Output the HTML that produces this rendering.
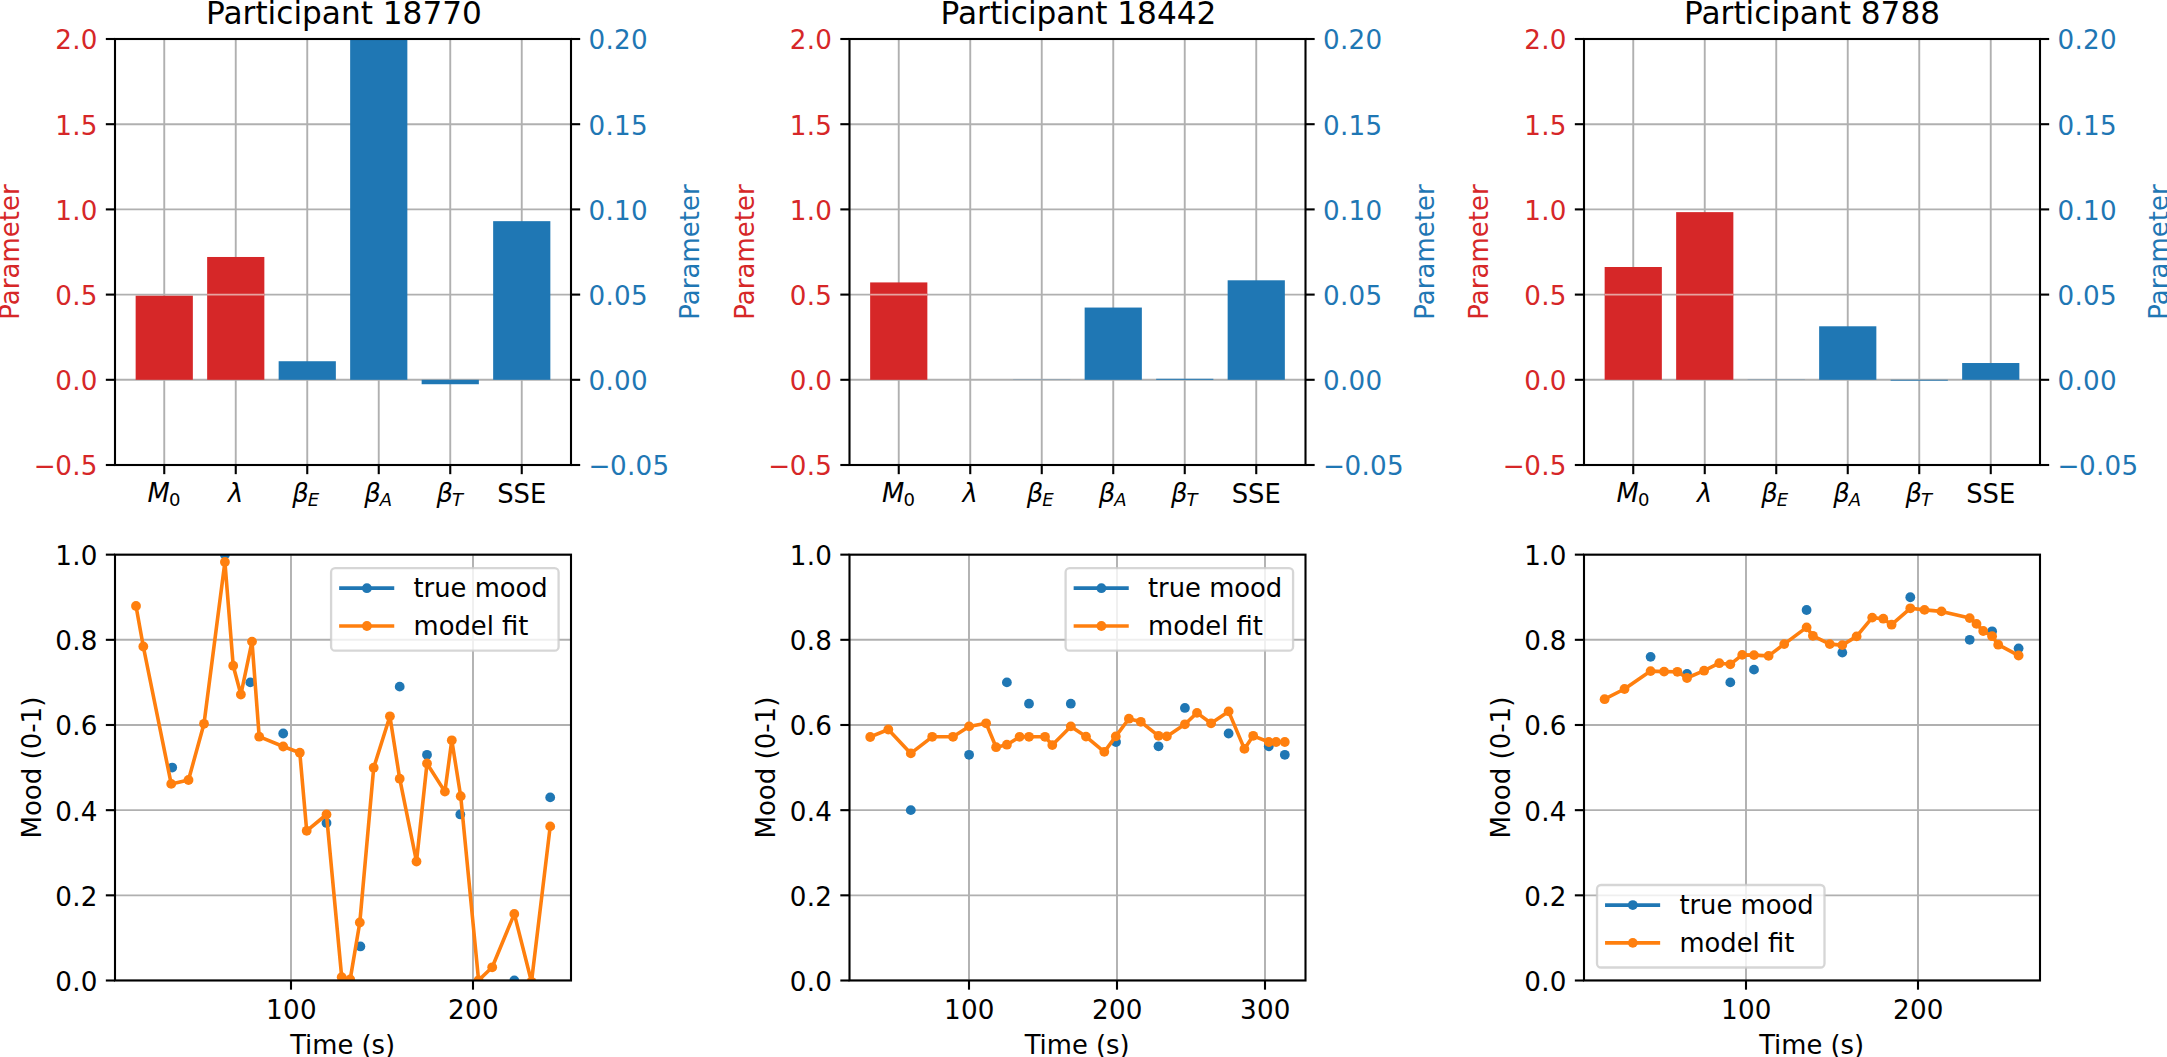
<!DOCTYPE html>
<html><head><meta charset="utf-8"><title>Participants</title>
<style>html,body{margin:0;padding:0;background:#fff}svg{display:block}text{font-family:"DejaVu Sans","Liberation Sans",sans-serif}</style></head><body>
<svg width="2167" height="1057" viewBox="0 0 2167 1057">
<rect width="2167" height="1057" fill="#fff"/>
<defs>
<clipPath id="ct0"><rect x="115" y="39" width="456" height="426"/></clipPath>
<clipPath id="cb0"><rect x="115" y="554.65" width="456" height="425.85"/></clipPath>
<clipPath id="ct1"><rect x="849.5" y="39" width="456" height="426"/></clipPath>
<clipPath id="cb1"><rect x="849.5" y="554.65" width="456" height="425.85"/></clipPath>
<clipPath id="ct2"><rect x="1584" y="39" width="456" height="426"/></clipPath>
<clipPath id="cb2"><rect x="1584" y="554.65" width="456" height="425.85"/></clipPath>
</defs>
<g clip-path="url(#ct0)">
<line x1="164.25" y1="39" x2="164.25" y2="465" stroke="#b0b0b0" stroke-width="1.9" />
<line x1="235.75" y1="39" x2="235.75" y2="465" stroke="#b0b0b0" stroke-width="1.9" />
<line x1="307.25" y1="39" x2="307.25" y2="465" stroke="#b0b0b0" stroke-width="1.9" />
<line x1="378.75" y1="39" x2="378.75" y2="465" stroke="#b0b0b0" stroke-width="1.9" />
<line x1="450.25" y1="39" x2="450.25" y2="465" stroke="#b0b0b0" stroke-width="1.9" />
<line x1="521.75" y1="39" x2="521.75" y2="465" stroke="#b0b0b0" stroke-width="1.9" />
<line x1="115" y1="465" x2="571" y2="465" stroke="#b0b0b0" stroke-width="1.9" />
<line x1="115" y1="379.8" x2="571" y2="379.8" stroke="#b0b0b0" stroke-width="1.9" />
<line x1="115" y1="294.6" x2="571" y2="294.6" stroke="#b0b0b0" stroke-width="1.9" />
<line x1="115" y1="209.4" x2="571" y2="209.4" stroke="#b0b0b0" stroke-width="1.9" />
<line x1="115" y1="124.2" x2="571" y2="124.2" stroke="#b0b0b0" stroke-width="1.9" />
<line x1="115" y1="39" x2="571" y2="39" stroke="#b0b0b0" stroke-width="1.9" />
<rect x="135.65" y="295.72" width="57.2" height="84.08" fill="#d62728"/>
<rect x="207.15" y="256.98" width="57.2" height="122.82" fill="#d62728"/>
<line x1="207.15" y1="294.6" x2="264.35" y2="294.6" stroke="#e6a3a0" stroke-width="1.8" />
<rect x="278.65" y="361.23" width="57.2" height="18.57" fill="#1f77b4"/>
<rect x="350.15" y="-46.2" width="57.2" height="426" fill="#1f77b4"/>
<rect x="421.65" y="379.8" width="57.2" height="4.43" fill="#1f77b4"/>
<rect x="493.15" y="221.16" width="57.2" height="158.64" fill="#1f77b4"/>
</g>
<line x1="164.25" y1="465" x2="164.25" y2="474.17" stroke="#000" stroke-width="2.1" />
<line x1="235.75" y1="465" x2="235.75" y2="474.17" stroke="#000" stroke-width="2.1" />
<line x1="307.25" y1="465" x2="307.25" y2="474.17" stroke="#000" stroke-width="2.1" />
<line x1="378.75" y1="465" x2="378.75" y2="474.17" stroke="#000" stroke-width="2.1" />
<line x1="450.25" y1="465" x2="450.25" y2="474.17" stroke="#000" stroke-width="2.1" />
<line x1="521.75" y1="465" x2="521.75" y2="474.17" stroke="#000" stroke-width="2.1" />
<line x1="105.83" y1="465" x2="115" y2="465" stroke="#000" stroke-width="2.1" />
<line x1="571" y1="465" x2="580.17" y2="465" stroke="#000" stroke-width="2.1" />
<line x1="105.83" y1="379.8" x2="115" y2="379.8" stroke="#000" stroke-width="2.1" />
<line x1="571" y1="379.8" x2="580.17" y2="379.8" stroke="#000" stroke-width="2.1" />
<line x1="105.83" y1="294.6" x2="115" y2="294.6" stroke="#000" stroke-width="2.1" />
<line x1="571" y1="294.6" x2="580.17" y2="294.6" stroke="#000" stroke-width="2.1" />
<line x1="105.83" y1="209.4" x2="115" y2="209.4" stroke="#000" stroke-width="2.1" />
<line x1="571" y1="209.4" x2="580.17" y2="209.4" stroke="#000" stroke-width="2.1" />
<line x1="105.83" y1="124.2" x2="115" y2="124.2" stroke="#000" stroke-width="2.1" />
<line x1="571" y1="124.2" x2="580.17" y2="124.2" stroke="#000" stroke-width="2.1" />
<line x1="105.83" y1="39" x2="115" y2="39" stroke="#000" stroke-width="2.1" />
<line x1="571" y1="39" x2="580.17" y2="39" stroke="#000" stroke-width="2.1" />
<rect x="115" y="39" width="456" height="426" fill="none" stroke="#000" stroke-width="2.1" stroke-linejoin="miter"/>
<text x="97.66" y="475" font-size="26.2" letter-spacing="0.25" fill="#d62728" text-anchor="end">−<tspan dx="-0.8">0.5</tspan></text>
<text x="588.59" y="475" font-size="26.2" letter-spacing="0.25" fill="#1f77b4" text-anchor="start">−<tspan dx="-0.8">0.05</tspan></text>
<text x="97.66" y="390" font-size="26.2" letter-spacing="0.25" fill="#d62728" text-anchor="end">0.0</text>
<text x="588.59" y="390" font-size="26.2" letter-spacing="0.25" fill="#1f77b4" text-anchor="start">0.00</text>
<text x="97.66" y="305" font-size="26.2" letter-spacing="0.25" fill="#d62728" text-anchor="end">0.5</text>
<text x="588.59" y="305" font-size="26.2" letter-spacing="0.25" fill="#1f77b4" text-anchor="start">0.05</text>
<text x="97.66" y="220" font-size="26.2" letter-spacing="0.25" fill="#d62728" text-anchor="end">1.0</text>
<text x="588.59" y="220" font-size="26.2" letter-spacing="0.25" fill="#1f77b4" text-anchor="start">0.10</text>
<text x="97.66" y="135" font-size="26.2" letter-spacing="0.25" fill="#d62728" text-anchor="end">1.5</text>
<text x="588.59" y="135" font-size="26.2" letter-spacing="0.25" fill="#1f77b4" text-anchor="start">0.15</text>
<text x="97.66" y="49" font-size="26.2" letter-spacing="0.25" fill="#d62728" text-anchor="end">2.0</text>
<text x="588.59" y="49" font-size="26.2" letter-spacing="0.25" fill="#1f77b4" text-anchor="start">0.20</text>
<text x="163.95" y="501.7" font-size="25.8" fill="#000" text-anchor="middle" ><tspan font-style="italic">M</tspan><tspan font-size="18.06" dy="4.2" dx="-0.9">0</tspan></text>
<text x="235.75" y="501.7" font-size="25.8" fill="#000" text-anchor="middle" ><tspan font-style="italic">λ</tspan></text>
<text x="305.75" y="501.7" font-size="25.8" fill="#000" text-anchor="middle" ><tspan font-style="italic">β</tspan><tspan font-style="italic" font-size="18.06" dy="4.2" dx="-0.9">E</tspan></text>
<text x="378.15" y="501.7" font-size="25.8" fill="#000" text-anchor="middle" ><tspan font-style="italic">β</tspan><tspan font-style="italic" font-size="18.06" dy="4.2" dx="-0.9">A</tspan></text>
<text x="449.75" y="501.7" font-size="25.8" fill="#000" text-anchor="middle" ><tspan font-style="italic">β</tspan><tspan font-style="italic" font-size="18.06" dy="4.2" dx="-0.9">T</tspan></text>
<text x="521.75" y="503.1" font-size="25.8" fill="#000" text-anchor="middle" >SSE</text>
<text x="344" y="23.9" font-size="31.17" fill="#000" text-anchor="middle" >Participant 18770</text>
<text transform="translate(19.1,252) rotate(-90)" font-size="26" fill="#d62728" text-anchor="middle">Parameter</text>
<text transform="translate(699,252) rotate(-90)" font-size="26" fill="#1f77b4" text-anchor="middle">Parameter</text>
<g clip-path="url(#ct1)">
<line x1="898.75" y1="39" x2="898.75" y2="465" stroke="#b0b0b0" stroke-width="1.9" />
<line x1="970.25" y1="39" x2="970.25" y2="465" stroke="#b0b0b0" stroke-width="1.9" />
<line x1="1041.75" y1="39" x2="1041.75" y2="465" stroke="#b0b0b0" stroke-width="1.9" />
<line x1="1113.25" y1="39" x2="1113.25" y2="465" stroke="#b0b0b0" stroke-width="1.9" />
<line x1="1184.75" y1="39" x2="1184.75" y2="465" stroke="#b0b0b0" stroke-width="1.9" />
<line x1="1256.25" y1="39" x2="1256.25" y2="465" stroke="#b0b0b0" stroke-width="1.9" />
<line x1="849.5" y1="465" x2="1305.5" y2="465" stroke="#b0b0b0" stroke-width="1.9" />
<line x1="849.5" y1="379.8" x2="1305.5" y2="379.8" stroke="#b0b0b0" stroke-width="1.9" />
<line x1="849.5" y1="294.6" x2="1305.5" y2="294.6" stroke="#b0b0b0" stroke-width="1.9" />
<line x1="849.5" y1="209.4" x2="1305.5" y2="209.4" stroke="#b0b0b0" stroke-width="1.9" />
<line x1="849.5" y1="124.2" x2="1305.5" y2="124.2" stroke="#b0b0b0" stroke-width="1.9" />
<line x1="849.5" y1="39" x2="1305.5" y2="39" stroke="#b0b0b0" stroke-width="1.9" />
<rect x="870.15" y="282.42" width="57.2" height="97.38" fill="#d62728"/>
<line x1="870.15" y1="294.6" x2="927.35" y2="294.6" stroke="#e6a3a0" stroke-width="1.8" />
<rect x="1013.15" y="379.8" width="57.2" height="0.17" fill="#1f77b4"/>
<rect x="1084.65" y="307.55" width="57.2" height="72.25" fill="#1f77b4"/>
<rect x="1156.15" y="378.78" width="57.2" height="1.02" fill="#1f77b4"/>
<rect x="1227.65" y="280.29" width="57.2" height="99.51" fill="#1f77b4"/>
</g>
<line x1="898.75" y1="465" x2="898.75" y2="474.17" stroke="#000" stroke-width="2.1" />
<line x1="970.25" y1="465" x2="970.25" y2="474.17" stroke="#000" stroke-width="2.1" />
<line x1="1041.75" y1="465" x2="1041.75" y2="474.17" stroke="#000" stroke-width="2.1" />
<line x1="1113.25" y1="465" x2="1113.25" y2="474.17" stroke="#000" stroke-width="2.1" />
<line x1="1184.75" y1="465" x2="1184.75" y2="474.17" stroke="#000" stroke-width="2.1" />
<line x1="1256.25" y1="465" x2="1256.25" y2="474.17" stroke="#000" stroke-width="2.1" />
<line x1="840.33" y1="465" x2="849.5" y2="465" stroke="#000" stroke-width="2.1" />
<line x1="1305.5" y1="465" x2="1314.67" y2="465" stroke="#000" stroke-width="2.1" />
<line x1="840.33" y1="379.8" x2="849.5" y2="379.8" stroke="#000" stroke-width="2.1" />
<line x1="1305.5" y1="379.8" x2="1314.67" y2="379.8" stroke="#000" stroke-width="2.1" />
<line x1="840.33" y1="294.6" x2="849.5" y2="294.6" stroke="#000" stroke-width="2.1" />
<line x1="1305.5" y1="294.6" x2="1314.67" y2="294.6" stroke="#000" stroke-width="2.1" />
<line x1="840.33" y1="209.4" x2="849.5" y2="209.4" stroke="#000" stroke-width="2.1" />
<line x1="1305.5" y1="209.4" x2="1314.67" y2="209.4" stroke="#000" stroke-width="2.1" />
<line x1="840.33" y1="124.2" x2="849.5" y2="124.2" stroke="#000" stroke-width="2.1" />
<line x1="1305.5" y1="124.2" x2="1314.67" y2="124.2" stroke="#000" stroke-width="2.1" />
<line x1="840.33" y1="39" x2="849.5" y2="39" stroke="#000" stroke-width="2.1" />
<line x1="1305.5" y1="39" x2="1314.67" y2="39" stroke="#000" stroke-width="2.1" />
<rect x="849.5" y="39" width="456" height="426" fill="none" stroke="#000" stroke-width="2.1" stroke-linejoin="miter"/>
<text x="832.16" y="475" font-size="26.2" letter-spacing="0.25" fill="#d62728" text-anchor="end">−<tspan dx="-0.8">0.5</tspan></text>
<text x="1323.09" y="475" font-size="26.2" letter-spacing="0.25" fill="#1f77b4" text-anchor="start">−<tspan dx="-0.8">0.05</tspan></text>
<text x="832.16" y="390" font-size="26.2" letter-spacing="0.25" fill="#d62728" text-anchor="end">0.0</text>
<text x="1323.09" y="390" font-size="26.2" letter-spacing="0.25" fill="#1f77b4" text-anchor="start">0.00</text>
<text x="832.16" y="305" font-size="26.2" letter-spacing="0.25" fill="#d62728" text-anchor="end">0.5</text>
<text x="1323.09" y="305" font-size="26.2" letter-spacing="0.25" fill="#1f77b4" text-anchor="start">0.05</text>
<text x="832.16" y="220" font-size="26.2" letter-spacing="0.25" fill="#d62728" text-anchor="end">1.0</text>
<text x="1323.09" y="220" font-size="26.2" letter-spacing="0.25" fill="#1f77b4" text-anchor="start">0.10</text>
<text x="832.16" y="135" font-size="26.2" letter-spacing="0.25" fill="#d62728" text-anchor="end">1.5</text>
<text x="1323.09" y="135" font-size="26.2" letter-spacing="0.25" fill="#1f77b4" text-anchor="start">0.15</text>
<text x="832.16" y="49" font-size="26.2" letter-spacing="0.25" fill="#d62728" text-anchor="end">2.0</text>
<text x="1323.09" y="49" font-size="26.2" letter-spacing="0.25" fill="#1f77b4" text-anchor="start">0.20</text>
<text x="898.45" y="501.7" font-size="25.8" fill="#000" text-anchor="middle" ><tspan font-style="italic">M</tspan><tspan font-size="18.06" dy="4.2" dx="-0.9">0</tspan></text>
<text x="970.25" y="501.7" font-size="25.8" fill="#000" text-anchor="middle" ><tspan font-style="italic">λ</tspan></text>
<text x="1040.25" y="501.7" font-size="25.8" fill="#000" text-anchor="middle" ><tspan font-style="italic">β</tspan><tspan font-style="italic" font-size="18.06" dy="4.2" dx="-0.9">E</tspan></text>
<text x="1112.65" y="501.7" font-size="25.8" fill="#000" text-anchor="middle" ><tspan font-style="italic">β</tspan><tspan font-style="italic" font-size="18.06" dy="4.2" dx="-0.9">A</tspan></text>
<text x="1184.25" y="501.7" font-size="25.8" fill="#000" text-anchor="middle" ><tspan font-style="italic">β</tspan><tspan font-style="italic" font-size="18.06" dy="4.2" dx="-0.9">T</tspan></text>
<text x="1256.25" y="503.1" font-size="25.8" fill="#000" text-anchor="middle" >SSE</text>
<text x="1078.5" y="23.9" font-size="31.17" fill="#000" text-anchor="middle" >Participant 18442</text>
<text transform="translate(753.6,252) rotate(-90)" font-size="26" fill="#d62728" text-anchor="middle">Parameter</text>
<text transform="translate(1433.5,252) rotate(-90)" font-size="26" fill="#1f77b4" text-anchor="middle">Parameter</text>
<g clip-path="url(#ct2)">
<line x1="1633.25" y1="39" x2="1633.25" y2="465" stroke="#b0b0b0" stroke-width="1.9" />
<line x1="1704.75" y1="39" x2="1704.75" y2="465" stroke="#b0b0b0" stroke-width="1.9" />
<line x1="1776.25" y1="39" x2="1776.25" y2="465" stroke="#b0b0b0" stroke-width="1.9" />
<line x1="1847.75" y1="39" x2="1847.75" y2="465" stroke="#b0b0b0" stroke-width="1.9" />
<line x1="1919.25" y1="39" x2="1919.25" y2="465" stroke="#b0b0b0" stroke-width="1.9" />
<line x1="1990.75" y1="39" x2="1990.75" y2="465" stroke="#b0b0b0" stroke-width="1.9" />
<line x1="1584" y1="465" x2="2040" y2="465" stroke="#b0b0b0" stroke-width="1.9" />
<line x1="1584" y1="379.8" x2="2040" y2="379.8" stroke="#b0b0b0" stroke-width="1.9" />
<line x1="1584" y1="294.6" x2="2040" y2="294.6" stroke="#b0b0b0" stroke-width="1.9" />
<line x1="1584" y1="209.4" x2="2040" y2="209.4" stroke="#b0b0b0" stroke-width="1.9" />
<line x1="1584" y1="124.2" x2="2040" y2="124.2" stroke="#b0b0b0" stroke-width="1.9" />
<line x1="1584" y1="39" x2="2040" y2="39" stroke="#b0b0b0" stroke-width="1.9" />
<rect x="1604.65" y="267" width="57.2" height="112.8" fill="#d62728"/>
<rect x="1676.15" y="212.13" width="57.2" height="167.67" fill="#d62728"/>
<line x1="1604.65" y1="294.6" x2="1661.85" y2="294.6" stroke="#e6a3a0" stroke-width="1.8" />
<line x1="1676.15" y1="294.6" x2="1733.35" y2="294.6" stroke="#e6a3a0" stroke-width="1.8" />
<rect x="1747.65" y="379.8" width="57.2" height="0.17" fill="#1f77b4"/>
<rect x="1819.15" y="326.29" width="57.2" height="53.51" fill="#1f77b4"/>
<rect x="1890.65" y="379.8" width="57.2" height="0.85" fill="#1f77b4"/>
<rect x="1962.15" y="363.02" width="57.2" height="16.78" fill="#1f77b4"/>
</g>
<line x1="1633.25" y1="465" x2="1633.25" y2="474.17" stroke="#000" stroke-width="2.1" />
<line x1="1704.75" y1="465" x2="1704.75" y2="474.17" stroke="#000" stroke-width="2.1" />
<line x1="1776.25" y1="465" x2="1776.25" y2="474.17" stroke="#000" stroke-width="2.1" />
<line x1="1847.75" y1="465" x2="1847.75" y2="474.17" stroke="#000" stroke-width="2.1" />
<line x1="1919.25" y1="465" x2="1919.25" y2="474.17" stroke="#000" stroke-width="2.1" />
<line x1="1990.75" y1="465" x2="1990.75" y2="474.17" stroke="#000" stroke-width="2.1" />
<line x1="1574.83" y1="465" x2="1584" y2="465" stroke="#000" stroke-width="2.1" />
<line x1="2040" y1="465" x2="2049.17" y2="465" stroke="#000" stroke-width="2.1" />
<line x1="1574.83" y1="379.8" x2="1584" y2="379.8" stroke="#000" stroke-width="2.1" />
<line x1="2040" y1="379.8" x2="2049.17" y2="379.8" stroke="#000" stroke-width="2.1" />
<line x1="1574.83" y1="294.6" x2="1584" y2="294.6" stroke="#000" stroke-width="2.1" />
<line x1="2040" y1="294.6" x2="2049.17" y2="294.6" stroke="#000" stroke-width="2.1" />
<line x1="1574.83" y1="209.4" x2="1584" y2="209.4" stroke="#000" stroke-width="2.1" />
<line x1="2040" y1="209.4" x2="2049.17" y2="209.4" stroke="#000" stroke-width="2.1" />
<line x1="1574.83" y1="124.2" x2="1584" y2="124.2" stroke="#000" stroke-width="2.1" />
<line x1="2040" y1="124.2" x2="2049.17" y2="124.2" stroke="#000" stroke-width="2.1" />
<line x1="1574.83" y1="39" x2="1584" y2="39" stroke="#000" stroke-width="2.1" />
<line x1="2040" y1="39" x2="2049.17" y2="39" stroke="#000" stroke-width="2.1" />
<rect x="1584" y="39" width="456" height="426" fill="none" stroke="#000" stroke-width="2.1" stroke-linejoin="miter"/>
<text x="1566.66" y="475" font-size="26.2" letter-spacing="0.25" fill="#d62728" text-anchor="end">−<tspan dx="-0.8">0.5</tspan></text>
<text x="2057.59" y="475" font-size="26.2" letter-spacing="0.25" fill="#1f77b4" text-anchor="start">−<tspan dx="-0.8">0.05</tspan></text>
<text x="1566.66" y="390" font-size="26.2" letter-spacing="0.25" fill="#d62728" text-anchor="end">0.0</text>
<text x="2057.59" y="390" font-size="26.2" letter-spacing="0.25" fill="#1f77b4" text-anchor="start">0.00</text>
<text x="1566.66" y="305" font-size="26.2" letter-spacing="0.25" fill="#d62728" text-anchor="end">0.5</text>
<text x="2057.59" y="305" font-size="26.2" letter-spacing="0.25" fill="#1f77b4" text-anchor="start">0.05</text>
<text x="1566.66" y="220" font-size="26.2" letter-spacing="0.25" fill="#d62728" text-anchor="end">1.0</text>
<text x="2057.59" y="220" font-size="26.2" letter-spacing="0.25" fill="#1f77b4" text-anchor="start">0.10</text>
<text x="1566.66" y="135" font-size="26.2" letter-spacing="0.25" fill="#d62728" text-anchor="end">1.5</text>
<text x="2057.59" y="135" font-size="26.2" letter-spacing="0.25" fill="#1f77b4" text-anchor="start">0.15</text>
<text x="1566.66" y="49" font-size="26.2" letter-spacing="0.25" fill="#d62728" text-anchor="end">2.0</text>
<text x="2057.59" y="49" font-size="26.2" letter-spacing="0.25" fill="#1f77b4" text-anchor="start">0.20</text>
<text x="1632.95" y="501.7" font-size="25.8" fill="#000" text-anchor="middle" ><tspan font-style="italic">M</tspan><tspan font-size="18.06" dy="4.2" dx="-0.9">0</tspan></text>
<text x="1704.75" y="501.7" font-size="25.8" fill="#000" text-anchor="middle" ><tspan font-style="italic">λ</tspan></text>
<text x="1774.75" y="501.7" font-size="25.8" fill="#000" text-anchor="middle" ><tspan font-style="italic">β</tspan><tspan font-style="italic" font-size="18.06" dy="4.2" dx="-0.9">E</tspan></text>
<text x="1847.15" y="501.7" font-size="25.8" fill="#000" text-anchor="middle" ><tspan font-style="italic">β</tspan><tspan font-style="italic" font-size="18.06" dy="4.2" dx="-0.9">A</tspan></text>
<text x="1918.75" y="501.7" font-size="25.8" fill="#000" text-anchor="middle" ><tspan font-style="italic">β</tspan><tspan font-style="italic" font-size="18.06" dy="4.2" dx="-0.9">T</tspan></text>
<text x="1990.75" y="503.1" font-size="25.8" fill="#000" text-anchor="middle" >SSE</text>
<text x="1812.1" y="23.9" font-size="31.17" fill="#000" text-anchor="middle" >Participant 8788</text>
<text transform="translate(1488.1,252) rotate(-90)" font-size="26" fill="#d62728" text-anchor="middle">Parameter</text>
<text transform="translate(2168,252) rotate(-90)" font-size="26" fill="#1f77b4" text-anchor="middle">Parameter</text>
<g clip-path="url(#cb0)">
<line x1="291" y1="554.65" x2="291" y2="980.5" stroke="#b0b0b0" stroke-width="1.9" />
<line x1="473" y1="554.65" x2="473" y2="980.5" stroke="#b0b0b0" stroke-width="1.9" />
<line x1="115" y1="980.5" x2="571" y2="980.5" stroke="#b0b0b0" stroke-width="1.9" />
<line x1="115" y1="895.33" x2="571" y2="895.33" stroke="#b0b0b0" stroke-width="1.9" />
<line x1="115" y1="810.16" x2="571" y2="810.16" stroke="#b0b0b0" stroke-width="1.9" />
<line x1="115" y1="724.99" x2="571" y2="724.99" stroke="#b0b0b0" stroke-width="1.9" />
<line x1="115" y1="639.82" x2="571" y2="639.82" stroke="#b0b0b0" stroke-width="1.9" />
<line x1="115" y1="554.65" x2="571" y2="554.65" stroke="#b0b0b0" stroke-width="1.9" />
<circle cx="172.2" cy="767.58" r="4.9" fill="#1f77b4"/>
<circle cx="224.9" cy="554.65" r="4.9" fill="#1f77b4"/>
<circle cx="250.3" cy="682.4" r="4.9" fill="#1f77b4"/>
<circle cx="283.2" cy="733.51" r="4.9" fill="#1f77b4"/>
<circle cx="326.5" cy="822.94" r="4.9" fill="#1f77b4"/>
<circle cx="360.4" cy="946.43" r="4.9" fill="#1f77b4"/>
<circle cx="399.7" cy="686.66" r="4.9" fill="#1f77b4"/>
<circle cx="427" cy="754.8" r="4.9" fill="#1f77b4"/>
<circle cx="460.3" cy="814.42" r="4.9" fill="#1f77b4"/>
<circle cx="514.3" cy="980.5" r="4.9" fill="#1f77b4"/>
<circle cx="550.2" cy="797.38" r="4.9" fill="#1f77b4"/>
<polyline points="136,606 143.3,646.5 171.2,783.9 188.5,780 204,723.8 224.9,562 233.2,665.7 240.9,694.5 252,641.6 259.2,736.7 283.2,746.5 299.8,752.7 306.7,830.8 326.5,814.5 341.7,977.2 350.2,979.4 359.8,922.5 373.7,767.7 389.9,716.3 399.7,778.7 416.5,861.5 427,763.5 444.9,791.6 451.8,740.3 460.7,796.2 478.6,980.3 492.2,967.3 514.3,913.9 531.5,981.8 550.2,826.4" fill="none" stroke="#ff7f0e" stroke-width="3.6" stroke-linejoin="round" stroke-linecap="square"/>
<circle cx="136" cy="606" r="4.9" fill="#ff7f0e"/>
<circle cx="143.3" cy="646.5" r="4.9" fill="#ff7f0e"/>
<circle cx="171.2" cy="783.9" r="4.9" fill="#ff7f0e"/>
<circle cx="188.5" cy="780" r="4.9" fill="#ff7f0e"/>
<circle cx="204" cy="723.8" r="4.9" fill="#ff7f0e"/>
<circle cx="224.9" cy="562" r="4.9" fill="#ff7f0e"/>
<circle cx="233.2" cy="665.7" r="4.9" fill="#ff7f0e"/>
<circle cx="240.9" cy="694.5" r="4.9" fill="#ff7f0e"/>
<circle cx="252" cy="641.6" r="4.9" fill="#ff7f0e"/>
<circle cx="259.2" cy="736.7" r="4.9" fill="#ff7f0e"/>
<circle cx="283.2" cy="746.5" r="4.9" fill="#ff7f0e"/>
<circle cx="299.8" cy="752.7" r="4.9" fill="#ff7f0e"/>
<circle cx="306.7" cy="830.8" r="4.9" fill="#ff7f0e"/>
<circle cx="326.5" cy="814.5" r="4.9" fill="#ff7f0e"/>
<circle cx="341.7" cy="977.2" r="4.9" fill="#ff7f0e"/>
<circle cx="350.2" cy="979.4" r="4.9" fill="#ff7f0e"/>
<circle cx="359.8" cy="922.5" r="4.9" fill="#ff7f0e"/>
<circle cx="373.7" cy="767.7" r="4.9" fill="#ff7f0e"/>
<circle cx="389.9" cy="716.3" r="4.9" fill="#ff7f0e"/>
<circle cx="399.7" cy="778.7" r="4.9" fill="#ff7f0e"/>
<circle cx="416.5" cy="861.5" r="4.9" fill="#ff7f0e"/>
<circle cx="427" cy="763.5" r="4.9" fill="#ff7f0e"/>
<circle cx="444.9" cy="791.6" r="4.9" fill="#ff7f0e"/>
<circle cx="451.8" cy="740.3" r="4.9" fill="#ff7f0e"/>
<circle cx="460.7" cy="796.2" r="4.9" fill="#ff7f0e"/>
<circle cx="478.6" cy="980.3" r="4.9" fill="#ff7f0e"/>
<circle cx="492.2" cy="967.3" r="4.9" fill="#ff7f0e"/>
<circle cx="514.3" cy="913.9" r="4.9" fill="#ff7f0e"/>
<circle cx="531.5" cy="981.8" r="4.9" fill="#ff7f0e"/>
<circle cx="550.2" cy="826.4" r="4.9" fill="#ff7f0e"/>
</g>
<line x1="291" y1="980.5" x2="291" y2="989.67" stroke="#000" stroke-width="2.1" />
<line x1="473" y1="980.5" x2="473" y2="989.67" stroke="#000" stroke-width="2.1" />
<line x1="105.83" y1="980.5" x2="115" y2="980.5" stroke="#000" stroke-width="2.1" />
<line x1="105.83" y1="895.33" x2="115" y2="895.33" stroke="#000" stroke-width="2.1" />
<line x1="105.83" y1="810.16" x2="115" y2="810.16" stroke="#000" stroke-width="2.1" />
<line x1="105.83" y1="724.99" x2="115" y2="724.99" stroke="#000" stroke-width="2.1" />
<line x1="105.83" y1="639.82" x2="115" y2="639.82" stroke="#000" stroke-width="2.1" />
<line x1="105.83" y1="554.65" x2="115" y2="554.65" stroke="#000" stroke-width="2.1" />
<rect x="115" y="554.65" width="456" height="425.85" fill="none" stroke="#000" stroke-width="2.1"/>
<text x="97.66" y="991" font-size="26.2" letter-spacing="0.25" fill="#000" text-anchor="end">0.0</text>
<text x="97.66" y="906" font-size="26.2" letter-spacing="0.25" fill="#000" text-anchor="end">0.2</text>
<text x="97.66" y="821" font-size="26.2" letter-spacing="0.25" fill="#000" text-anchor="end">0.4</text>
<text x="97.66" y="735" font-size="26.2" letter-spacing="0.25" fill="#000" text-anchor="end">0.6</text>
<text x="97.66" y="650" font-size="26.2" letter-spacing="0.25" fill="#000" text-anchor="end">0.8</text>
<text x="97.66" y="565" font-size="26.2" letter-spacing="0.25" fill="#000" text-anchor="end">1.0</text>
<text x="291.43" y="1019" font-size="26.2" letter-spacing="0.25" fill="#000" text-anchor="middle">100</text>
<text x="473.43" y="1019" font-size="26.2" letter-spacing="0.25" fill="#000" text-anchor="middle">200</text>
<text x="342.6" y="1054.3" font-size="25.8" fill="#000" text-anchor="middle" >Time (s)</text>
<text transform="translate(40.6,767.58) rotate(-90)" font-size="26" fill="#000" text-anchor="middle">Mood (0-1)</text>
<rect x="331.1" y="568.15" width="227.5" height="82.5" rx="4" ry="4" fill="#fff" fill-opacity="0.8" stroke="#ccc" stroke-opacity="0.8" stroke-width="2.3"/>
<line x1="341" y1="588.2" x2="392.4" y2="588.2" stroke="#1f77b4" stroke-width="3.7" stroke-linecap="square"/>
<circle cx="366.9" cy="588.2" r="4.9" fill="#1f77b4"/>
<text x="413.5" y="597.1" font-size="25.8" fill="#000" text-anchor="start" >true mood</text>
<line x1="341" y1="626" x2="392.4" y2="626" stroke="#ff7f0e" stroke-width="3.7" stroke-linecap="square"/>
<circle cx="366.9" cy="626" r="4.9" fill="#ff7f0e"/>
<text x="413.5" y="634.9" font-size="25.8" fill="#000" text-anchor="start" >model fit</text>
<g clip-path="url(#cb1)">
<line x1="969" y1="554.65" x2="969" y2="980.5" stroke="#b0b0b0" stroke-width="1.9" />
<line x1="1117" y1="554.65" x2="1117" y2="980.5" stroke="#b0b0b0" stroke-width="1.9" />
<line x1="1265" y1="554.65" x2="1265" y2="980.5" stroke="#b0b0b0" stroke-width="1.9" />
<line x1="849.5" y1="980.5" x2="1305.5" y2="980.5" stroke="#b0b0b0" stroke-width="1.9" />
<line x1="849.5" y1="895.33" x2="1305.5" y2="895.33" stroke="#b0b0b0" stroke-width="1.9" />
<line x1="849.5" y1="810.16" x2="1305.5" y2="810.16" stroke="#b0b0b0" stroke-width="1.9" />
<line x1="849.5" y1="724.99" x2="1305.5" y2="724.99" stroke="#b0b0b0" stroke-width="1.9" />
<line x1="849.5" y1="639.82" x2="1305.5" y2="639.82" stroke="#b0b0b0" stroke-width="1.9" />
<line x1="849.5" y1="554.65" x2="1305.5" y2="554.65" stroke="#b0b0b0" stroke-width="1.9" />
<circle cx="910.8" cy="810.16" r="4.9" fill="#1f77b4"/>
<circle cx="969.1" cy="754.8" r="4.9" fill="#1f77b4"/>
<circle cx="1006.9" cy="682.4" r="4.9" fill="#1f77b4"/>
<circle cx="1029" cy="703.7" r="4.9" fill="#1f77b4"/>
<circle cx="1070.8" cy="703.7" r="4.9" fill="#1f77b4"/>
<circle cx="1116" cy="742.02" r="4.9" fill="#1f77b4"/>
<circle cx="1158.5" cy="746.28" r="4.9" fill="#1f77b4"/>
<circle cx="1184.9" cy="707.96" r="4.9" fill="#1f77b4"/>
<circle cx="1228.6" cy="733.51" r="4.9" fill="#1f77b4"/>
<circle cx="1268.8" cy="746.28" r="4.9" fill="#1f77b4"/>
<circle cx="1284.8" cy="754.8" r="4.9" fill="#1f77b4"/>
<polyline points="870.2,737 888.3,729.5 910.8,753.4 932.2,736.8 953,736.8 969.1,726.4 986.1,723.3 996.1,747.2 1006.9,744.7 1019.6,736.8 1029,736.8 1045,736.8 1052.3,745.1 1070.8,726.4 1086,736.6 1104.3,751.8 1115.8,736.4 1128.9,718.7 1140.8,721.8 1158.5,735.8 1166.8,736.4 1184.9,724.3 1197,712.9 1211.1,723.3 1228.6,711.4 1244.4,748.9 1253.2,735.8 1268.8,742 1276.1,742 1284.8,742" fill="none" stroke="#ff7f0e" stroke-width="3.6" stroke-linejoin="round" stroke-linecap="square"/>
<circle cx="870.2" cy="737" r="4.9" fill="#ff7f0e"/>
<circle cx="888.3" cy="729.5" r="4.9" fill="#ff7f0e"/>
<circle cx="910.8" cy="753.4" r="4.9" fill="#ff7f0e"/>
<circle cx="932.2" cy="736.8" r="4.9" fill="#ff7f0e"/>
<circle cx="953" cy="736.8" r="4.9" fill="#ff7f0e"/>
<circle cx="969.1" cy="726.4" r="4.9" fill="#ff7f0e"/>
<circle cx="986.1" cy="723.3" r="4.9" fill="#ff7f0e"/>
<circle cx="996.1" cy="747.2" r="4.9" fill="#ff7f0e"/>
<circle cx="1006.9" cy="744.7" r="4.9" fill="#ff7f0e"/>
<circle cx="1019.6" cy="736.8" r="4.9" fill="#ff7f0e"/>
<circle cx="1029" cy="736.8" r="4.9" fill="#ff7f0e"/>
<circle cx="1045" cy="736.8" r="4.9" fill="#ff7f0e"/>
<circle cx="1052.3" cy="745.1" r="4.9" fill="#ff7f0e"/>
<circle cx="1070.8" cy="726.4" r="4.9" fill="#ff7f0e"/>
<circle cx="1086" cy="736.6" r="4.9" fill="#ff7f0e"/>
<circle cx="1104.3" cy="751.8" r="4.9" fill="#ff7f0e"/>
<circle cx="1115.8" cy="736.4" r="4.9" fill="#ff7f0e"/>
<circle cx="1128.9" cy="718.7" r="4.9" fill="#ff7f0e"/>
<circle cx="1140.8" cy="721.8" r="4.9" fill="#ff7f0e"/>
<circle cx="1158.5" cy="735.8" r="4.9" fill="#ff7f0e"/>
<circle cx="1166.8" cy="736.4" r="4.9" fill="#ff7f0e"/>
<circle cx="1184.9" cy="724.3" r="4.9" fill="#ff7f0e"/>
<circle cx="1197" cy="712.9" r="4.9" fill="#ff7f0e"/>
<circle cx="1211.1" cy="723.3" r="4.9" fill="#ff7f0e"/>
<circle cx="1228.6" cy="711.4" r="4.9" fill="#ff7f0e"/>
<circle cx="1244.4" cy="748.9" r="4.9" fill="#ff7f0e"/>
<circle cx="1253.2" cy="735.8" r="4.9" fill="#ff7f0e"/>
<circle cx="1268.8" cy="742" r="4.9" fill="#ff7f0e"/>
<circle cx="1276.1" cy="742" r="4.9" fill="#ff7f0e"/>
<circle cx="1284.8" cy="742" r="4.9" fill="#ff7f0e"/>
</g>
<line x1="969" y1="980.5" x2="969" y2="989.67" stroke="#000" stroke-width="2.1" />
<line x1="1117" y1="980.5" x2="1117" y2="989.67" stroke="#000" stroke-width="2.1" />
<line x1="1265" y1="980.5" x2="1265" y2="989.67" stroke="#000" stroke-width="2.1" />
<line x1="840.33" y1="980.5" x2="849.5" y2="980.5" stroke="#000" stroke-width="2.1" />
<line x1="840.33" y1="895.33" x2="849.5" y2="895.33" stroke="#000" stroke-width="2.1" />
<line x1="840.33" y1="810.16" x2="849.5" y2="810.16" stroke="#000" stroke-width="2.1" />
<line x1="840.33" y1="724.99" x2="849.5" y2="724.99" stroke="#000" stroke-width="2.1" />
<line x1="840.33" y1="639.82" x2="849.5" y2="639.82" stroke="#000" stroke-width="2.1" />
<line x1="840.33" y1="554.65" x2="849.5" y2="554.65" stroke="#000" stroke-width="2.1" />
<rect x="849.5" y="554.65" width="456" height="425.85" fill="none" stroke="#000" stroke-width="2.1"/>
<text x="832.16" y="991" font-size="26.2" letter-spacing="0.25" fill="#000" text-anchor="end">0.0</text>
<text x="832.16" y="906" font-size="26.2" letter-spacing="0.25" fill="#000" text-anchor="end">0.2</text>
<text x="832.16" y="821" font-size="26.2" letter-spacing="0.25" fill="#000" text-anchor="end">0.4</text>
<text x="832.16" y="735" font-size="26.2" letter-spacing="0.25" fill="#000" text-anchor="end">0.6</text>
<text x="832.16" y="650" font-size="26.2" letter-spacing="0.25" fill="#000" text-anchor="end">0.8</text>
<text x="832.16" y="565" font-size="26.2" letter-spacing="0.25" fill="#000" text-anchor="end">1.0</text>
<text x="969.42" y="1019" font-size="26.2" letter-spacing="0.25" fill="#000" text-anchor="middle">100</text>
<text x="1117.42" y="1019" font-size="26.2" letter-spacing="0.25" fill="#000" text-anchor="middle">200</text>
<text x="1265.42" y="1019" font-size="26.2" letter-spacing="0.25" fill="#000" text-anchor="middle">300</text>
<text x="1077.1" y="1054.3" font-size="25.8" fill="#000" text-anchor="middle" >Time (s)</text>
<text transform="translate(775.1,767.58) rotate(-90)" font-size="26" fill="#000" text-anchor="middle">Mood (0-1)</text>
<rect x="1065.6" y="568.15" width="227.5" height="82.5" rx="4" ry="4" fill="#fff" fill-opacity="0.8" stroke="#ccc" stroke-opacity="0.8" stroke-width="2.3"/>
<line x1="1075.5" y1="588.2" x2="1126.9" y2="588.2" stroke="#1f77b4" stroke-width="3.7" stroke-linecap="square"/>
<circle cx="1101.4" cy="588.2" r="4.9" fill="#1f77b4"/>
<text x="1148" y="597.1" font-size="25.8" fill="#000" text-anchor="start" >true mood</text>
<line x1="1075.5" y1="626" x2="1126.9" y2="626" stroke="#ff7f0e" stroke-width="3.7" stroke-linecap="square"/>
<circle cx="1101.4" cy="626" r="4.9" fill="#ff7f0e"/>
<text x="1148" y="634.9" font-size="25.8" fill="#000" text-anchor="start" >model fit</text>
<g clip-path="url(#cb2)">
<line x1="1746" y1="554.65" x2="1746" y2="980.5" stroke="#b0b0b0" stroke-width="1.9" />
<line x1="1918" y1="554.65" x2="1918" y2="980.5" stroke="#b0b0b0" stroke-width="1.9" />
<line x1="1584" y1="980.5" x2="2040" y2="980.5" stroke="#b0b0b0" stroke-width="1.9" />
<line x1="1584" y1="895.33" x2="2040" y2="895.33" stroke="#b0b0b0" stroke-width="1.9" />
<line x1="1584" y1="810.16" x2="2040" y2="810.16" stroke="#b0b0b0" stroke-width="1.9" />
<line x1="1584" y1="724.99" x2="2040" y2="724.99" stroke="#b0b0b0" stroke-width="1.9" />
<line x1="1584" y1="639.82" x2="2040" y2="639.82" stroke="#b0b0b0" stroke-width="1.9" />
<line x1="1584" y1="554.65" x2="2040" y2="554.65" stroke="#b0b0b0" stroke-width="1.9" />
<circle cx="1650.6" cy="656.85" r="4.9" fill="#1f77b4"/>
<circle cx="1687" cy="673.89" r="4.9" fill="#1f77b4"/>
<circle cx="1730.3" cy="682.4" r="4.9" fill="#1f77b4"/>
<circle cx="1754" cy="669.63" r="4.9" fill="#1f77b4"/>
<circle cx="1806.6" cy="610.01" r="4.9" fill="#1f77b4"/>
<circle cx="1842.3" cy="652.6" r="4.9" fill="#1f77b4"/>
<circle cx="1910.3" cy="597.23" r="4.9" fill="#1f77b4"/>
<circle cx="1969.7" cy="639.82" r="4.9" fill="#1f77b4"/>
<circle cx="1992.1" cy="631.3" r="4.9" fill="#1f77b4"/>
<circle cx="2018.6" cy="648.34" r="4.9" fill="#1f77b4"/>
<polyline points="1604.6,699.2 1624.5,689 1650.6,671.1 1664.1,671.6 1677.4,671.8 1687,678 1704.1,670.7 1719.3,663.2 1730.3,664.3 1742.2,654.9 1754,655.1 1768.6,655.9 1784.2,644.1 1806.6,627.4 1812.9,635.8 1829.8,644.1 1842.3,645.1 1856.6,636.4 1872.2,617.6 1883.3,618.7 1891.6,624.7 1910.3,608.3 1924.5,609.9 1941.5,611.4 1969.7,618.1 1976.5,623.9 1983.2,631 1992.1,636.2 1998.2,644.7 2018.6,655.5" fill="none" stroke="#ff7f0e" stroke-width="3.6" stroke-linejoin="round" stroke-linecap="square"/>
<circle cx="1604.6" cy="699.2" r="4.9" fill="#ff7f0e"/>
<circle cx="1624.5" cy="689" r="4.9" fill="#ff7f0e"/>
<circle cx="1650.6" cy="671.1" r="4.9" fill="#ff7f0e"/>
<circle cx="1664.1" cy="671.6" r="4.9" fill="#ff7f0e"/>
<circle cx="1677.4" cy="671.8" r="4.9" fill="#ff7f0e"/>
<circle cx="1687" cy="678" r="4.9" fill="#ff7f0e"/>
<circle cx="1704.1" cy="670.7" r="4.9" fill="#ff7f0e"/>
<circle cx="1719.3" cy="663.2" r="4.9" fill="#ff7f0e"/>
<circle cx="1730.3" cy="664.3" r="4.9" fill="#ff7f0e"/>
<circle cx="1742.2" cy="654.9" r="4.9" fill="#ff7f0e"/>
<circle cx="1754" cy="655.1" r="4.9" fill="#ff7f0e"/>
<circle cx="1768.6" cy="655.9" r="4.9" fill="#ff7f0e"/>
<circle cx="1784.2" cy="644.1" r="4.9" fill="#ff7f0e"/>
<circle cx="1806.6" cy="627.4" r="4.9" fill="#ff7f0e"/>
<circle cx="1812.9" cy="635.8" r="4.9" fill="#ff7f0e"/>
<circle cx="1829.8" cy="644.1" r="4.9" fill="#ff7f0e"/>
<circle cx="1842.3" cy="645.1" r="4.9" fill="#ff7f0e"/>
<circle cx="1856.6" cy="636.4" r="4.9" fill="#ff7f0e"/>
<circle cx="1872.2" cy="617.6" r="4.9" fill="#ff7f0e"/>
<circle cx="1883.3" cy="618.7" r="4.9" fill="#ff7f0e"/>
<circle cx="1891.6" cy="624.7" r="4.9" fill="#ff7f0e"/>
<circle cx="1910.3" cy="608.3" r="4.9" fill="#ff7f0e"/>
<circle cx="1924.5" cy="609.9" r="4.9" fill="#ff7f0e"/>
<circle cx="1941.5" cy="611.4" r="4.9" fill="#ff7f0e"/>
<circle cx="1969.7" cy="618.1" r="4.9" fill="#ff7f0e"/>
<circle cx="1976.5" cy="623.9" r="4.9" fill="#ff7f0e"/>
<circle cx="1983.2" cy="631" r="4.9" fill="#ff7f0e"/>
<circle cx="1992.1" cy="636.2" r="4.9" fill="#ff7f0e"/>
<circle cx="1998.2" cy="644.7" r="4.9" fill="#ff7f0e"/>
<circle cx="2018.6" cy="655.5" r="4.9" fill="#ff7f0e"/>
</g>
<line x1="1746" y1="980.5" x2="1746" y2="989.67" stroke="#000" stroke-width="2.1" />
<line x1="1918" y1="980.5" x2="1918" y2="989.67" stroke="#000" stroke-width="2.1" />
<line x1="1574.83" y1="980.5" x2="1584" y2="980.5" stroke="#000" stroke-width="2.1" />
<line x1="1574.83" y1="895.33" x2="1584" y2="895.33" stroke="#000" stroke-width="2.1" />
<line x1="1574.83" y1="810.16" x2="1584" y2="810.16" stroke="#000" stroke-width="2.1" />
<line x1="1574.83" y1="724.99" x2="1584" y2="724.99" stroke="#000" stroke-width="2.1" />
<line x1="1574.83" y1="639.82" x2="1584" y2="639.82" stroke="#000" stroke-width="2.1" />
<line x1="1574.83" y1="554.65" x2="1584" y2="554.65" stroke="#000" stroke-width="2.1" />
<rect x="1584" y="554.65" width="456" height="425.85" fill="none" stroke="#000" stroke-width="2.1"/>
<text x="1566.66" y="991" font-size="26.2" letter-spacing="0.25" fill="#000" text-anchor="end">0.0</text>
<text x="1566.66" y="906" font-size="26.2" letter-spacing="0.25" fill="#000" text-anchor="end">0.2</text>
<text x="1566.66" y="821" font-size="26.2" letter-spacing="0.25" fill="#000" text-anchor="end">0.4</text>
<text x="1566.66" y="735" font-size="26.2" letter-spacing="0.25" fill="#000" text-anchor="end">0.6</text>
<text x="1566.66" y="650" font-size="26.2" letter-spacing="0.25" fill="#000" text-anchor="end">0.8</text>
<text x="1566.66" y="565" font-size="26.2" letter-spacing="0.25" fill="#000" text-anchor="end">1.0</text>
<text x="1746.42" y="1019" font-size="26.2" letter-spacing="0.25" fill="#000" text-anchor="middle">100</text>
<text x="1918.42" y="1019" font-size="26.2" letter-spacing="0.25" fill="#000" text-anchor="middle">200</text>
<text x="1811.6" y="1054.3" font-size="25.8" fill="#000" text-anchor="middle" >Time (s)</text>
<text transform="translate(1509.6,767.58) rotate(-90)" font-size="26" fill="#000" text-anchor="middle">Mood (0-1)</text>
<rect x="1597" y="885" width="227.5" height="82.5" rx="4" ry="4" fill="#fff" fill-opacity="0.8" stroke="#ccc" stroke-opacity="0.8" stroke-width="2.3"/>
<line x1="1606.9" y1="905.05" x2="1658.3" y2="905.05" stroke="#1f77b4" stroke-width="3.7" stroke-linecap="square"/>
<circle cx="1632.8" cy="905.05" r="4.9" fill="#1f77b4"/>
<text x="1679.4" y="913.95" font-size="25.8" fill="#000" text-anchor="start" >true mood</text>
<line x1="1606.9" y1="942.85" x2="1658.3" y2="942.85" stroke="#ff7f0e" stroke-width="3.7" stroke-linecap="square"/>
<circle cx="1632.8" cy="942.85" r="4.9" fill="#ff7f0e"/>
<text x="1679.4" y="951.75" font-size="25.8" fill="#000" text-anchor="start" >model fit</text>
</svg></body></html>
